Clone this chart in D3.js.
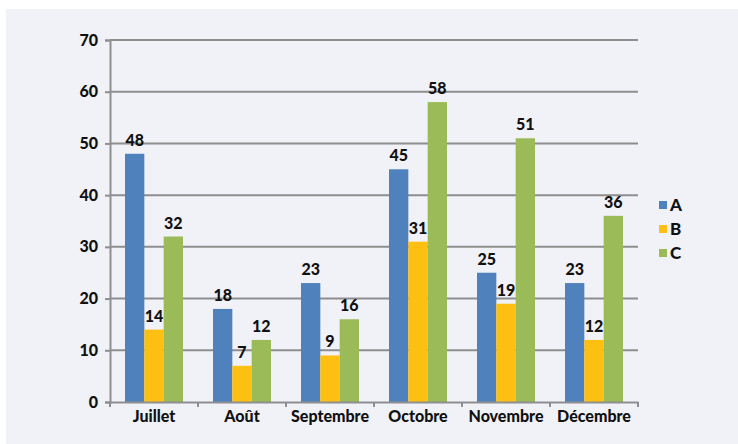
<!DOCTYPE html>
<html>
<head>
<meta charset="utf-8">
<script src="https://cdn.jsdelivr.net/npm/d3@7"></script>
<style>
  body { margin: 0; background: #fff; }
  svg text { font-family: Lato, "DejaVu Sans", sans-serif; font-weight: 900; fill: #111; }
</style>
</head>
<body>
<svg width="738" height="444"></svg>
<script>
const months = [ 'Juillet', 'Août', 'Septembre', 'Octobre', 'Novembre', 'Décembre' ];
const seriesNames = [ 'A', 'B', 'C' ];
const valuesA = [ 48, 18, 23, 45, 25, 23 ];
const valuesB = [ 14, 7, 9, 31, 19, 12 ];
const valuesC = [ 32, 12, 16, 58, 51, 36 ];
const yTicks = [ 0, 10, 20, 30, 40, 50, 60, 70 ];
const colors = [ '#4f81bd', '#fdbf12', '#9bbb59' ];

const svg = d3.select( 'svg' );

svg.append( 'rect' )
  .attr( 'x', 6 ).attr( 'y', 9 )
  .attr( 'width', 732 ).attr( 'height', 435 )
  .attr( 'fill', '#f1f2f8' );

const plotLeft = 110, plotRight = 638, plotTop = 40, plotBottom = 402;

const x = d3.scaleBand().domain( months ).range( [ plotLeft, plotRight ] ).paddingInner( 0 ).paddingOuter( 0 );
const xs = d3.scaleBand().domain( seriesNames ).range( [ 15, x.bandwidth() - 15 ] );
const y = d3.scaleLinear().domain( [ 0, 70 ] ).range( [ plotBottom, plotTop ] );

// grid lines
svg.append( 'g' )
  .selectAll( 'line' )
  .data( yTicks.filter( d => d > 0 ) )
  .join( 'line' )
  .attr( 'x1', plotLeft ).attr( 'x2', plotRight )
  .attr( 'y1', d => y( d ) ).attr( 'y2', d => y( d ) )
  .attr( 'stroke', '#8e8e8e' ).attr( 'stroke-width', 2 );

let yAxis = svg.append( 'g' )
  .attr( 'transform', 'translate(' + plotLeft + ',0)' )
  .call( d3.axisLeft( y ).tickValues( yTicks ).tickSize( 5 ).tickPadding( 7 ) );
yAxis.select( '.domain' ).attr( 'stroke', '#8e8e8e' ).attr( 'stroke-width', 2 );
yAxis.selectAll( '.tick line' ).attr( 'stroke', '#8e8e8e' ).attr( 'stroke-width', 2 );
yAxis.selectAll( 'text' ).style( 'font-size', '16px' );

let data = [ valuesA, valuesB, valuesC ];

let groups = svg.append( 'g' )
  .selectAll( 'g' )
  .data( months )
  .join( 'g' )
  .attr( 'transform', d => 'translate(' + x( d ) + ',0)' );

groups.selectAll( 'rect' )
  .data( ( d, i ) => seriesNames.map( ( s, j ) => ( { s: s, v: data[ j ][ i ], c: colors[ j ] } ) ) )
  .join( 'rect' )
  .attr( 'x', d => xs( d.s ) )
  .attr( 'width', xs.bandwidth() )
  .attr( 'y', d => y( d.v ) )
  .attr( 'height', d => y( 0 ) - y( d.v ) )
  .attr( 'fill', d => d.c );

groups.selectAll( 'text' )
  .data( ( d, i ) => seriesNames.map( ( s, j ) => ( { s: s, v: data[ j ][ i ] } ) ) )
  .join( 'text' )
  .attr( 'x', d => xs( d.s ) + xs.bandwidth() / 2 )
  .attr( 'y', d => y( d.v ) - 8 )
  .attr( 'text-anchor', 'middle' )
  .style( 'font-size', '16px' )
  .text( d => d.v );

let xAxis = svg.append( 'g' )
  .attr( 'transform', 'translate(0,' + plotBottom + ')' )
  .call( d3.axisBottom( x ).tickSize( 0 ).tickPadding( 9 ) );
xAxis.select( '.domain' ).attr( 'stroke', '#8e8e8e' ).attr( 'stroke-width', 2 );
xAxis.selectAll( 'text' ).style( 'font-size', '16px' );

// category boundary ticks
svg.append( 'g' )
  .selectAll( 'line' )
  .data( months.concat( [ null ] ) )
  .join( 'line' )
  .attr( 'x1', d => d === null ? plotRight : x( d ) )
  .attr( 'x2', d => d === null ? plotRight : x( d ) )
  .attr( 'y1', plotBottom ).attr( 'y2', plotBottom + 5 )
  .attr( 'stroke', '#8e8e8e' ).attr( 'stroke-width', 2 );

// legend
let legend = svg.append( 'g' )
  .selectAll( 'g' )
  .data( seriesNames )
  .join( 'g' )
  .attr( 'transform', ( d, i ) => 'translate(659,' + ( 201 + i * 24 ) + ')' );
legend.append( 'rect' )
  .attr( 'width', 8 ).attr( 'height', 8 )
  .attr( 'fill', ( d, i ) => colors[ i ] );
legend.append( 'text' )
  .attr( 'x', 11 ).attr( 'y', 10 )
  .style( 'font-size', '17px' )
  .text( d => d );
</script>
</body>
</html>
